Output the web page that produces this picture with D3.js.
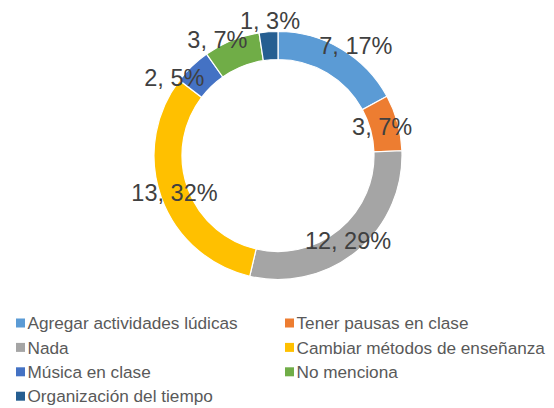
<!DOCTYPE html>
<html>
<head>
<meta charset="utf-8">
<script src="https://cdn.jsdelivr.net/npm/d3@7"></script>
<style>
  body { margin: 0; background: #fff; }
  svg { font-family: "Liberation Sans", Arial, sans-serif; }
</style>
</head>
<body>
<svg id="chart"></svg>
<script>
const categories = [
  "Agregar actividades lúdicas",
  "Tener pausas en clase",
  "Nada",
  "Cambiar métodos de enseñanza",
  "Música en clase",
  "No menciona",
  "Organización del tiempo",
];
const values = [7, 3, 12, 13, 2, 3, 1];
const colors = ["#5B9BD5", "#ED7D31", "#A5A5A5", "#FFC000", "#4472C4", "#70AD47", "#255E91"];

// label placement (Excel "best fit" look): radius and angle nudge in degrees
const labelRadius = [135, 108, 110, 110, 130, 131, 135];
const labelNudge = [4.5, 0, 0, 0, -9, -5.6, 1];

const W = 554, H = 408;
const cx = 278, cy = 155.5;
const outerR = 124, innerR = 96;

const svg = d3.select("#chart").attr("width", W).attr("height", H);

// percentages rounded so they add up to 100 (largest remainder, like Excel)
const total = d3.sum(values);
const raw = values.map((v) => (v / total) * 100);
const pct = raw.map(Math.floor);
let left = 100 - d3.sum(pct);
d3.range(values.length)
  .sort((a, b) => (raw[b] - pct[b]) - (raw[a] - pct[a]))
  .forEach((i) => { if (left > 0) { pct[i] += 1; left--; } });

const pie = d3.pie().sort(null).value((d) => d)(values);
const arc = d3.arc().innerRadius(innerR).outerRadius(outerR);

const g = svg.append("g").attr("transform", `translate(${cx},${cy})`);

g.selectAll("path")
  .data(pie)
  .enter()
  .append("path")
  .attr("d", arc)
  .attr("fill", (d, i) => colors[i])
  .attr("stroke", "#fff")
  .attr("stroke-width", 1.2);

g.selectAll("text.lbl")
  .data(pie)
  .enter()
  .append("text")
  .attr("class", "lbl")
  .attr("transform", (d, i) => {
    const a = (d.startAngle + d.endAngle) / 2 + (labelNudge[i] * Math.PI) / 180;
    const r = labelRadius[i];
    return `translate(${r * Math.sin(a)},${-r * Math.cos(a)})`;
  })
  .attr("text-anchor", "middle")
  .attr("dy", "0.36em")
  .attr("font-size", 23.5)
  .attr("fill", "#404040")
  .text((d, i) => `${d.value}, ${pct[i]}%`);

// legend, two columns
const legX = [16, 285];
const legY0 = 323, legStep = 24.4;
const leg = svg
  .selectAll("g.leg")
  .data(categories)
  .enter()
  .append("g")
  .attr("class", "leg")
  .attr("transform", (d, i) => `translate(${legX[i % 2]},${legY0 + Math.floor(i / 2) * legStep})`);

leg.append("rect")
  .attr("x", 0)
  .attr("y", -4.5)
  .attr("width", 9)
  .attr("height", 9)
  .attr("fill", (d, i) => colors[i]);

leg.append("text")
  .attr("x", 11.5)
  .attr("dy", "0.36em")
  .attr("font-size", 17.2)
  .attr("fill", "#595959")
  .text((d) => d);
</script>
</body>
</html>
